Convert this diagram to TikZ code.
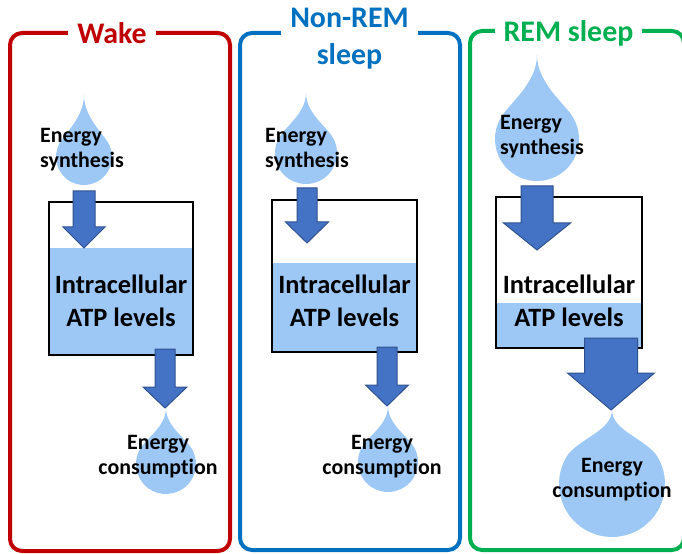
\documentclass[tikz,border=0pt]{standalone}
\usepackage{fontspec}
\setmainfont{Carlito}[Ligatures=CommonOff]
\usetikzlibrary{positioning}

\definecolor{wakered}{RGB}{192,0,0}
\definecolor{nremblue}{RGB}{0,112,192}
\definecolor{remgreen}{RGB}{0,176,80}
\definecolor{water}{RGB}{157,200,245}
\definecolor{arrowfill}{RGB}{68,114,196}
\definecolor{arrowline}{RGB}{47,82,143}

\tikzset{
  frame/.style={line width=4bp, rounded corners=12bp},
  title/.style={fill=white, inner xsep=9bp, inner ysep=0pt, align=center,
    font=\bfseries\fontsize{30}{37}\selectfont},
  drop/.style={fill=water},
  tank/.style={draw=black, line width=1.3bp},
  flow/.style={fill=arrowfill, draw=arrowline, line width=1bp, line join=miter},
  small/.style={font=\bfseries\fontsize{22}{25}\selectfont, inner sep=0pt},
  level/.style={font=\bfseries\fontsize{26.5}{33}\selectfont, align=center, inner sep=0pt},
}

% drop: x, tip y, centre y, radius
\newcommand\waterdrop[4]{%
  \fill[drop] (#1,#2)
    .. controls ({#1},{#2+0.45*(#3-#2-0.5*#4)}) and ({#1-0.666*#4},{#3-0.846*#4})
    .. ({#1-0.866*#4},{#3-0.5*#4})
    arc[start angle=210, end angle=-30, radius=#4]
    .. controls ({#1+0.666*#4},{#3-0.846*#4}) and ({#1},{#2+0.45*(#3-#2-0.5*#4)})
    .. cycle;}

% block arrow: x, top y, neck y, tip y, shaft half width, head half width
\newcommand\blockarrow[6]{%
  \draw[flow] ({#1-#5},#2) -- ({#1+#5},#2) -- ({#1+#5},#3) -- ({#1+#6},#3)
    -- (#1,#4) -- ({#1-#6},#3) -- ({#1-#5},#3) -- cycle;}

\begin{document}
\begin{tikzpicture}[x=1bp, y=-1bp]
  \path[use as bounding box] (0,0) rectangle (682,554);

  % frames
  \draw[frame, wakered] (10,33) rectangle (230,551);
  \draw[frame, nremblue] (240,33) rectangle (460,550);
  \draw[frame, remgreen] (470,31) rectangle (684,550);
  \node[title, text=wakered] (waketitle) at (112,33) {Wake};
  \node[title, text=nremblue] (nremtitle) at (349.5,39) {Non-REM\\sleep};
  \node[title, text=remgreen] (remtitle) at (568.5,33) {REM sleep};

  % wake
  \waterdrop{84}{95}{157}{28}
  \waterdrop{166}{408}{464}{30}
  \fill[water] (49,248) rectangle (193,355);
  \draw[tank] (49,202) rectangle (193,355);
  \blockarrow{84}{191}{227}{248}{11}{21}
  \blockarrow{165}{349}{387}{408}{10}{22}
  \node[small, anchor=west, align=left] (wakein) at (40,150) {Energy\\synthesis};
  \node[level] (wakeatp) at (121,301) {Intracellular\\ATP levels};
  \node[small, align=center] (wakeout) at (158,457) {Energy\\consumption};

  % non-REM sleep
  \waterdrop{306}{93}{153}{31}
  \waterdrop{388}{406}{462}{30}
  \fill[water] (272,263) rectangle (417,352);
  \draw[tank] (272,200) rectangle (417,352);
  \blockarrow{307}{188}{222}{243}{10}{21.5}
  \blockarrow{387}{347}{385}{406}{10}{21.5}
  \node[small, anchor=west, align=left] (nremin) at (265,150) {Energy\\synthesis};
  \node[level] (nrematp) at (344.5,301) {Intracellular\\ATP levels};
  \node[small, align=center] (nremout) at (382,457) {Energy\\consumption};

  % REM sleep
  \waterdrop{537}{55}{139}{42}
  \waterdrop{612}{410}{484}{53}
  \fill[water] (496,303) rectangle (642,348);
  \draw[tank] (496,197) rectangle (642,348);
  \blockarrow{537}{186}{223}{250}{16}{33.5}
  \blockarrow{611}{338}{373}{410}{26.5}{43.5}
  \node[small, anchor=west, align=left] (remin) at (500,137) {Energy\\synthesis};
  \node[level] (rematp) at (569,301) {Intracellular\\ATP levels};
  \node[small, align=center] (remout) at (612,480) {Energy\\consumption};
\end{tikzpicture}
\end{document}
